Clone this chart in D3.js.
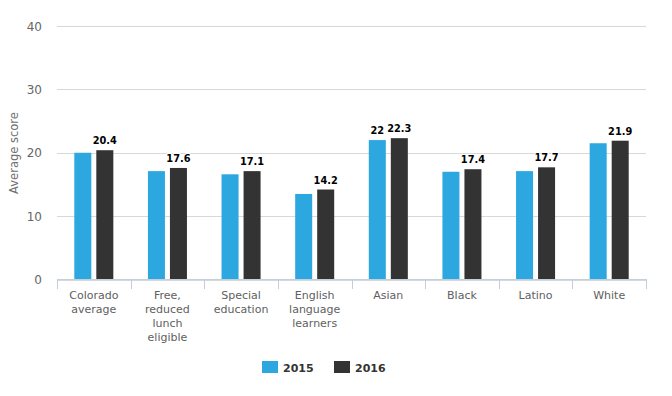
<!DOCTYPE html>
<html><head><meta charset="utf-8">
<script src="https://cdn.jsdelivr.net/npm/d3@7"></script>
<style>
html,body{margin:0;padding:0;background:#fff;}
svg{display:block;font-family:"DejaVu Sans",sans-serif;}
</style></head>
<body>
<svg id="chart" width="672" height="396"></svg>
<script>
const categories = ["Colorado average","Free, reduced lunch eligible","Special education","English language learners","Asian","Black","Latino","White"];
const categoryLines = [["Colorado","average"],["Free,","reduced","lunch","eligible"],["Special","education"],["English","language","learners"],["Asian"],["Black"],["Latino"],["White"]];
const values2015 = [20.0, 17.1, 16.6, 13.5, 22.0, 17.0, 17.1, 21.5];
const values2016 = [20.4, 17.6, 17.1, 14.2, 22.3, 17.4, 17.7, 21.9];
const labelled2015 = ["Asian"];
const seriesNames = ["2015","2016"];
const yTicks = [0,10,20,30,40];
const colors = ["#2ca7e0","#333333"];

const svg = d3.select("#chart");
const x = d3.scaleBand().domain(categories).range([57,646]);
const y = d3.scaleLinear().domain([0,40]).range([279.5,26]);
const inner = d3.scaleBand().domain(seriesNames).range([0, x.bandwidth()]).paddingInner(0.227).paddingOuter(0.786);

// gridlines
svg.append("g").selectAll("line").data(yTicks).join("line")
  .attr("x1",57).attr("x2",646)
  .attr("y1",d=>Math.round(y(d))+0.5).attr("y2",d=>Math.round(y(d))+0.5)
  .attr("stroke","#d8d8d8").attr("stroke-width",1);

// y tick labels
svg.append("g").selectAll("text").data(yTicks).join("text")
  .attr("x",42).attr("y",d=>y(d)+4.5)
  .attr("text-anchor","end").attr("font-size",12).attr("fill","#666")
  .text(d=>d);

// y title
svg.append("text")
  .attr("transform","translate(18,153) rotate(-90)")
  .attr("text-anchor","middle").attr("font-size",11.5).attr("fill","#707070")
  .text("Average score");

// bars
const series = [values2015, values2016];
series.forEach((vals,si)=>{
  svg.append("g").selectAll("rect").data(vals).join("rect")
    .attr("x",(d,i)=>x(categories[i])+inner(seriesNames[si]))
    .attr("width",inner.bandwidth())
    .attr("y",d=>y(d))
    .attr("height",d=>y(0)-y(d))
    .attr("fill",colors[si]);
});

// x axis line & ticks
svg.append("line").attr("x1",57).attr("x2",646).attr("y1",279.5).attr("y2",279.5)
  .attr("stroke","#c0d0e0").attr("stroke-width",1);
const tickPos = categories.map(c=>x(c)).concat([x.range()[1]]);
svg.append("g").selectAll("line").data(tickPos).join("line")
  .attr("x1",d=>Math.round(d)+0.5).attr("x2",d=>Math.round(d)+0.5)
  .attr("y1",279).attr("y2",289)
  .attr("stroke","#c0d0e0").attr("stroke-width",1);

// category labels
const cl = svg.append("g").selectAll("text").data(categories).join("text")
  .attr("x",d=>x(d)+x.bandwidth()/2).attr("y",299)
  .attr("text-anchor","middle").attr("font-size",11).attr("fill","#606060");
cl.each(function(d,i){
  d3.select(this).selectAll("tspan").data(categoryLines[i]).join("tspan")
    .attr("x",x(d)+x.bandwidth()/2).attr("dy",(t,j)=>j===0?0:14).text(t=>t);
});

// data labels
function addLabels(vals, si, filter){
  const g = svg.append("g");
  vals.forEach((v,i)=>{
    if(!filter(i)) return;
    const cx = x(categories[i])+inner(seriesNames[si])+inner.bandwidth()/2;
    g.append("text").attr("x",cx).attr("y",y(v)-6)
      .attr("text-anchor","middle").attr("font-size",9.8).attr("font-weight","bold")
      .attr("fill","#000").attr("stroke","#fff").attr("stroke-width",2).attr("paint-order","stroke")
      .text(v);
  });
}
addLabels(values2015,0,i=>labelled2015.includes(categories[i]));
addLabels(values2016,1,i=>true);

// legend
const legendX = [262,334];
seriesNames.forEach((s,si)=>{
  svg.append("rect").attr("x",legendX[si]).attr("y",361).attr("width",16).attr("height",12).attr("fill",colors[si]);
  svg.append("text").attr("x",legendX[si]+21).attr("y",371.5)
    .attr("font-size",11).attr("font-weight","bold").attr("fill","#333")
    .text(s);
});
</script>
</body></html>
